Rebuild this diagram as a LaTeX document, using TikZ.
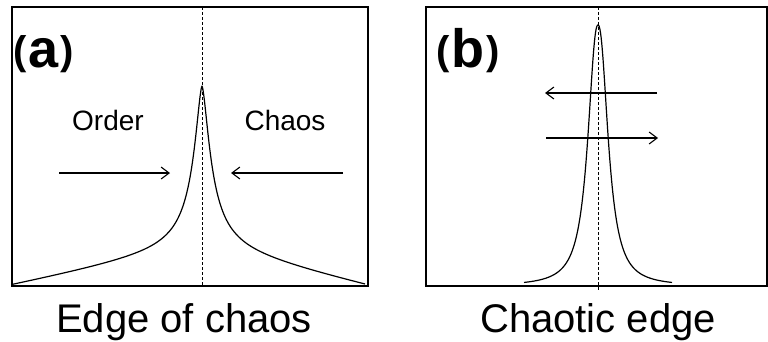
\documentclass[tikz,border=0pt]{standalone}
\usepackage{fontspec}
\setmainfont{Liberation Sans}
\usetikzlibrary{arrows.meta}
\tikzset{
  panel/.style={draw=black, line width=1.3pt},
  midline/.style={draw=black, line width=1pt, dash pattern=on 3pt off 2pt},
  curve/.style={draw=black, line width=1.2pt, line join=round},
  flow/.style={draw=black, line width=1.1pt, -{Straight Barb[length=8pt,width=12pt,line width=1.1pt]}},
  label/.style={inner sep=0pt, anchor=base, font=\fontsize{28}{30}\selectfont},
  caption/.style={inner sep=0pt, anchor=base, font=\fontsize{40}{42}\selectfont},
  tag/.style={inner sep=0pt, anchor=base west, font=\bfseries}
}
\newcommand{\paneltag}[1]{{\fontsize{40}{42}\selectfont\raisebox{3pt}{(}}\kern2pt{\fontsize{54}{56}\selectfont #1}\kern2pt{\fontsize{40}{42}\selectfont\raisebox{3pt}{)}}}
\begin{document}
\begin{tikzpicture}[x=1pt,y=1pt]
\useasboundingbox (0,0) rectangle (768,341);
% panel (a)
\draw[panel] (12,55) rectangle (368,334);
\draw[midline] (202,334) -- (202,55);
\draw[curve] plot[domain=-190:-30,samples=60,smooth] ({202+\x},{55+161.7/(1+((abs(\x)+0.01)/10.6)^1.6)+38.3*(1+\x/190)})
  -- plot[domain=-30:30,samples=121] ({202+\x},{55+161.7/(1+((abs(\x)+0.01)/10.6)^1.6)+38.3*(1-abs(\x)/(\x<0 ? 190 : 163))})
  -- plot[domain=30:163,samples=60,smooth] ({202+\x},{55+161.7/(1+((abs(\x)+0.01)/10.6)^1.6)+38.3*(1-\x/163)});
\node[tag] (ta) at (13,274) {\paneltag{a}};
\node[label] (order) at (108,211) {Order};
\node[label] (chaos) at (285,211) {Chaos};
\coordinate (a1s) at (59,168);
\coordinate (a1e) at (170,168);
\coordinate (a2s) at (343,168);
\coordinate (a2e) at (231,168);
\draw[flow] (a1s) -- (a1e);
\draw[flow] (a2s) -- (a2e);
\node[caption] (capa) at (184,9) {Edge of chaos};
% panel (b)
\draw[panel] (426,55) rectangle (767,334);
\draw[midline] (598,334) -- (598,51);
\draw[curve] plot[domain=-74:74,samples=241] ({598+\x},{55+261/(1+((abs(\x)+0.01)/11.5)^2.3)});
\node[tag] (tb) at (436,274) {\paneltag{b}};
\coordinate (b1s) at (657,248);
\coordinate (b1e) at (545,248);
\coordinate (b2s) at (546,203);
\coordinate (b2e) at (658,203);
\draw[flow] (b1s) -- (b1e);
\draw[flow] (b2s) -- (b2e);
\node[caption] (capb) at (598,9) {Chaotic edge};
\end{tikzpicture}
\end{document}
